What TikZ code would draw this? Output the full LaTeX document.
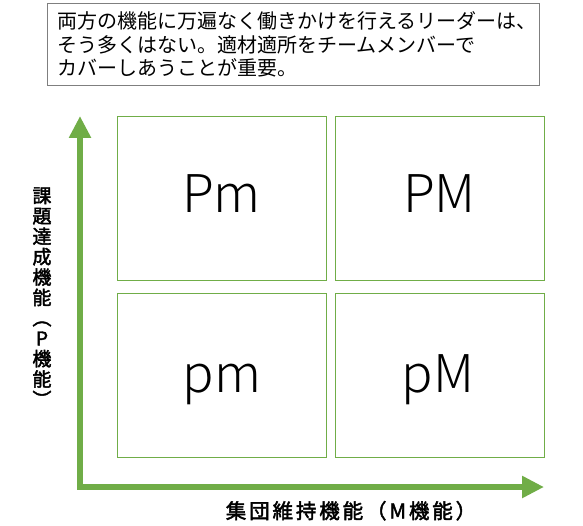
\documentclass[tikz,border=0pt]{standalone}
\usepackage{fontspec}
\setmainfont{Noto Sans CJK JP}
\newfontfamily\jpbold{Noto Sans CJK JP}[FakeBold=2.2]
\newfontfamily\jpboldsp{Noto Sans CJK JP}[FakeBold=2.2, LetterSpace=14]
\newfontfamily\jplight{Noto Sans CJK JP Light}
\usetikzlibrary{arrows.meta}
\definecolor{grn}{HTML}{70AD47}
\definecolor{gbord}{HTML}{7F7F7F}
\tikzset{
  quad/.style={draw=grn, line width=0.8pt, minimum width=209pt, minimum height=164pt, inner sep=0pt},
  big/.style={anchor=base, inner sep=0pt, font=\jplight\fontsize{52}{56}\selectfont},
  noteline/.style={anchor=base west, inner sep=0pt, font=\fontsize{20}{23}\selectfont},
  axis/.style={draw=grn, line width=5.5pt, {Triangle[width=21pt,length=22pt]}-{Triangle[width=21pt,length=22pt]}},
}
\begin{document}
\begin{tikzpicture}[x=1pt,y=-1pt]
\useasboundingbox (0,0) rectangle (583,526);
\node[draw=gbord, line width=0.8pt, minimum width=492pt, minimum height=82pt, anchor=north west, inner sep=0pt] (note) at (47,3) {};
\node[noteline] (l1) at (57,29) {両方の機能に万遍なく働きかけを行えるリーダーは、};
\node[noteline] (l2) at (57,52.5) {そう多くはない。適材適所をチームメンバーで};
\node[noteline] (l3) at (57,75.5) {カバーしあうことが重要。};
\node[quad] (qPm) at (221.5,198) {};
\node[quad] (qPM) at (439.5,198) {};
\node[quad] (qpm) at (221.5,375.5) {};
\node[quad] (qpM) at (439.5,375.5) {};
\node[big] (Pm) at (221.5,213) {Pm};
\node[big] (PM) at (439.5,213) {PM};
\node[big] (pm) at (222,392) {pm};
\node[big] (pM) at (438,392) {pM};
\coordinate (origin) at (80,487);
\coordinate (ytip) at (80,116);
\coordinate (xtip) at (544,487);
\draw[axis, line join=miter] (ytip) -- (origin) -- (xtip);
\node[font=\jpbold\fontsize{19}{20.4}\selectfont, align=center, inner sep=0pt] (ylabel) at (42,297)
 {課\\題\\達\\成\\機\\能\\︵\\P\\機\\能\\︶};
\node[font=\jpboldsp\fontsize{20.5}{22}\selectfont, anchor=base, inner sep=0pt] (xlabel) at (351,518.5) {集団維持機能（M機能）};
\end{tikzpicture}
\end{document}
